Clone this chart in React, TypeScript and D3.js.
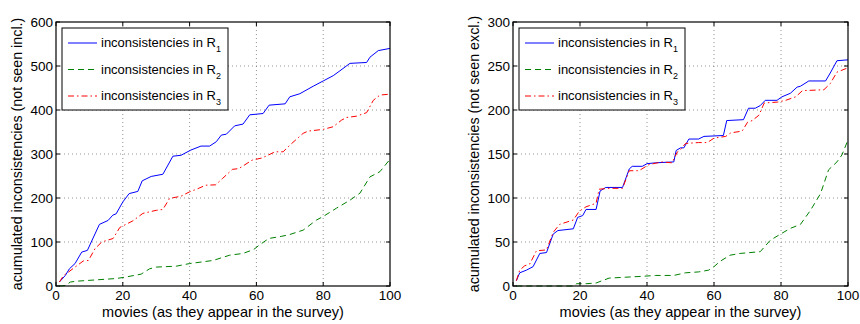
import React, { useEffect, useRef } from 'react';
import * as d3 from 'd3';

// [movie index, accumulated count]
const inclR1 = [[1,9],[2.8,24],[4,39],[5.7,51],[7.7,77],[9.4,81],[13,140],[15.6,149],[17,161],[18,164],[20,191],[21.9,210],[24.5,215],[25.8,239],[28.5,249],[32,254],[35,295],[37.4,297],[40.4,309],[43.4,318],[46,318],[48,328],[49.5,343],[51,345],[53.5,364],[56,368],[58,389],[62,392],[63.8,411],[68.6,414],[70,430],[73,437],[77,454],[80,466],[83,478],[85,489],[88,506],[93,508],[94,520],[96.5,535],[100,540]];
const inclR2 = [[1,0],[2.8,1],[4.3,9],[6.3,11],[12.2,14],[18,17],[20.6,20],[25.5,27],[28,39],[30,43],[36,45],[40,51],[47,58],[52,70],[56,74],[59.2,83],[60.7,92],[63.7,108],[67.6,113],[70,117],[74,127],[78,150],[80,158],[84,177],[88,195],[91,211],[94,248],[97,260],[100,288]];
const inclR3 = [[1,9],[2.3,24],[3.8,32],[5.7,43],[8.2,57],[9.7,58],[11.7,85],[13.7,100],[17.1,108],[19.1,133],[23,148],[26,165],[30,172],[32,174],[34,199],[37.4,204],[40,214],[42.4,221],[44.8,229],[47.8,230],[49.8,244],[52.8,265],[54.8,267],[58.7,286],[61.7,291],[65.6,305],[68,305],[70,320],[74,347],[75.5,352],[80,356],[83,362],[85.5,377],[87,383],[90,386],[93,394],[95,422],[97,434],[100,436]];

const exclR1 = [[1,6],[2,15],[4,18],[6,22],[8,37],[10,38],[12,59],[13.4,63],[18,65],[19.3,78],[20.8,80],[21.8,87],[24.8,87],[26,108],[27.7,112],[32.7,112],[34.7,133],[35.6,136],[38.6,136],[40,139],[42.6,140],[48,141],[48.7,154],[50,157],[51,157],[52.5,167],[55.4,167],[57,170],[62.8,171],[63.8,188],[68.8,189],[70.3,202],[72.3,202],[73.8,205],[75.3,211],[78.8,211],[80.3,215],[82.8,219],[84.8,226],[85.8,227],[88.3,233],[93.3,233],[94.7,242],[96.7,256],[100,257]];
const exclR2 = [[1,0],[18,0],[19,2.6],[21.8,2.6],[24.8,3.4],[28.7,9],[33.7,10],[38.6,11],[42.6,12],[48,12],[51.5,15],[55.4,16],[58.4,18],[60,22],[61.8,28],[64.8,35],[67.8,37],[73.8,39],[76.8,52],[80.3,60],[82.8,65.5],[85.8,70],[88.8,86],[91.8,105],[94.2,132],[96.7,141],[98.2,149],[100,166]];
const exclR3 = [[1,6],[2,18],[3.5,23],[5,25],[7,40],[10,41],[12,61],[13.9,70],[18,75],[19.8,85],[21.8,90],[24.8,94],[25.7,110],[28.7,111],[32.7,111],[34.7,131],[37.6,131],[40.6,138],[44.5,141],[47.5,140],[49,152],[50,155],[51.5,162],[55.4,163],[58,163],[60,168],[63.5,170],[65,174],[68.4,176],[70,186],[71.4,188],[73.4,194],[75,208],[79,209],[81.4,211],[84.4,215],[86.4,222],[92.8,223],[94.7,230],[96.7,243],[100,248]];

const xTicks = [0, 20, 40, 60, 80, 100];
const inclYTicks = [0, 100, 200, 300, 400, 500, 600];
const exclYTicks = [0, 50, 100, 150, 200, 250, 300];
const legendNames = ['1', '2', '3'];

const FONT = '"Liberation Sans", Arial, Helvetica, sans-serif';

const seriesStyle = [
  { color: '#0000ff', dash: null },
  { color: '#008000', dash: '6,4' },
  { color: '#ff0000', dash: '6,3,1.5,3' },
];

function drawPanel(root, opts) {
  const { left, right, top, bottom, yMax, yTicks, series, ylabel } = opts;

  const x = d3.scaleLinear().domain([0, 100]).range([left, right]);
  const y = d3.scaleLinear().domain([0, yMax]).range([bottom, top]);

  const g = root.append('g');

  // dotted grid
  g.selectAll('.gx')
    .data(xTicks.filter((t) => t > 0 && t < 100))
    .enter().append('line')
    .attr('x1', (d) => x(d)).attr('x2', (d) => x(d))
    .attr('y1', top).attr('y2', bottom)
    .attr('stroke', '#777').attr('stroke-width', 0.8)
    .attr('stroke-dasharray', '1,3');
  g.selectAll('.gy')
    .data(yTicks.filter((t) => t > 0 && t < yMax))
    .enter().append('line')
    .attr('x1', left).attr('x2', right)
    .attr('y1', (d) => y(d)).attr('y2', (d) => y(d))
    .attr('stroke', '#777').attr('stroke-width', 0.8)
    .attr('stroke-dasharray', '1,3');

  // series
  const line = d3.line().x((d) => x(d[0])).y((d) => y(d[1]));
  series.forEach((data, i) => {
    const p = g.append('path')
      .attr('d', line(data))
      .attr('fill', 'none')
      .attr('stroke', seriesStyle[i].color)
      .attr('stroke-width', 1);
    if (seriesStyle[i].dash) p.attr('stroke-dasharray', seriesStyle[i].dash);
  });

  // inward ticks on all sides
  const tk = 4;
  xTicks.forEach((t) => {
    g.append('line').attr('x1', x(t)).attr('x2', x(t)).attr('y1', bottom).attr('y2', bottom - tk).attr('stroke', '#000');
    g.append('line').attr('x1', x(t)).attr('x2', x(t)).attr('y1', top).attr('y2', top + tk).attr('stroke', '#000');
    g.append('text').attr('x', x(t)).attr('y', bottom + 14)
      .attr('text-anchor', 'middle').attr('font-size', 13.5).attr('font-family', FONT)
      .text(t);
  });
  yTicks.forEach((t) => {
    g.append('line').attr('x1', left).attr('x2', left + tk).attr('y1', y(t)).attr('y2', y(t)).attr('stroke', '#000');
    g.append('line').attr('x1', right).attr('x2', right - tk).attr('y1', y(t)).attr('y2', y(t)).attr('stroke', '#000');
    g.append('text').attr('x', left - 3).attr('y', y(t) + 5)
      .attr('text-anchor', 'end').attr('font-size', 13.5).attr('font-family', FONT)
      .text(t);
  });

  // box
  g.append('rect')
    .attr('x', left).attr('y', top)
    .attr('width', right - left).attr('height', bottom - top)
    .attr('fill', 'none').attr('stroke', '#000').attr('stroke-width', 1.2);

  // axis labels
  g.append('text')
    .attr('x', (left + right) / 2).attr('y', bottom + 31)
    .attr('text-anchor', 'middle').attr('font-size', 14.5).attr('font-family', FONT)
    .text('movies (as they appear in the survey)');
  g.append('text')
    .attr('transform', `translate(${left - 34},${(top + bottom) / 2}) rotate(-90)`)
    .attr('text-anchor', 'middle').attr('font-size', 14.3).attr('font-family', FONT)
    .text(ylabel);

  // legend
  const lx = left + 6;
  const ly = top + 6;
  g.append('rect')
    .attr('x', lx).attr('y', ly).attr('width', 166).attr('height', 82)
    .attr('fill', '#fff').attr('stroke', '#000').attr('stroke-width', 1);
  legendNames.forEach((n, i) => {
    const yy = ly + 15 + i * 26.5;
    const l = g.append('line')
      .attr('x1', lx + 6).attr('x2', lx + 35).attr('y1', yy).attr('y2', yy)
      .attr('stroke', seriesStyle[i].color).attr('stroke-width', 1);
    if (seriesStyle[i].dash) l.attr('stroke-dasharray', seriesStyle[i].dash);
    const t = g.append('text')
      .attr('x', lx + 39).attr('y', yy + 4)
      .attr('font-size', 13).attr('font-family', FONT);
    t.append('tspan').text('inconsistencies in R');
    t.append('tspan').attr('dy', 5).attr('font-size', 9).text(n);
  });
}

const App = () => {
  const ref = useRef(null);

  useEffect(() => {
    const root = d3.select(ref.current);
    root.selectAll('*').remove();

    drawPanel(root, {
      left: 56, right: 390, top: 22, bottom: 286,
      yMax: 600, yTicks: inclYTicks,
      series: [inclR1, inclR2, inclR3],
      ylabel: 'acumulated inconsistencies (not seen incl.)',
    });
    drawPanel(root, {
      left: 513, right: 848, top: 22, bottom: 286,
      yMax: 300, yTicks: exclYTicks,
      series: [exclR1, exclR2, exclR3],
      ylabel: 'acumulated inconsistencies (not seen excl.)',
    });
  }, []);

  return (
    <svg
      ref={ref}
      width={860}
      height={324}
      style={{ position: 'absolute', left: 0, top: 0, background: '#fff' }}
    />
  );
};

export default App;
